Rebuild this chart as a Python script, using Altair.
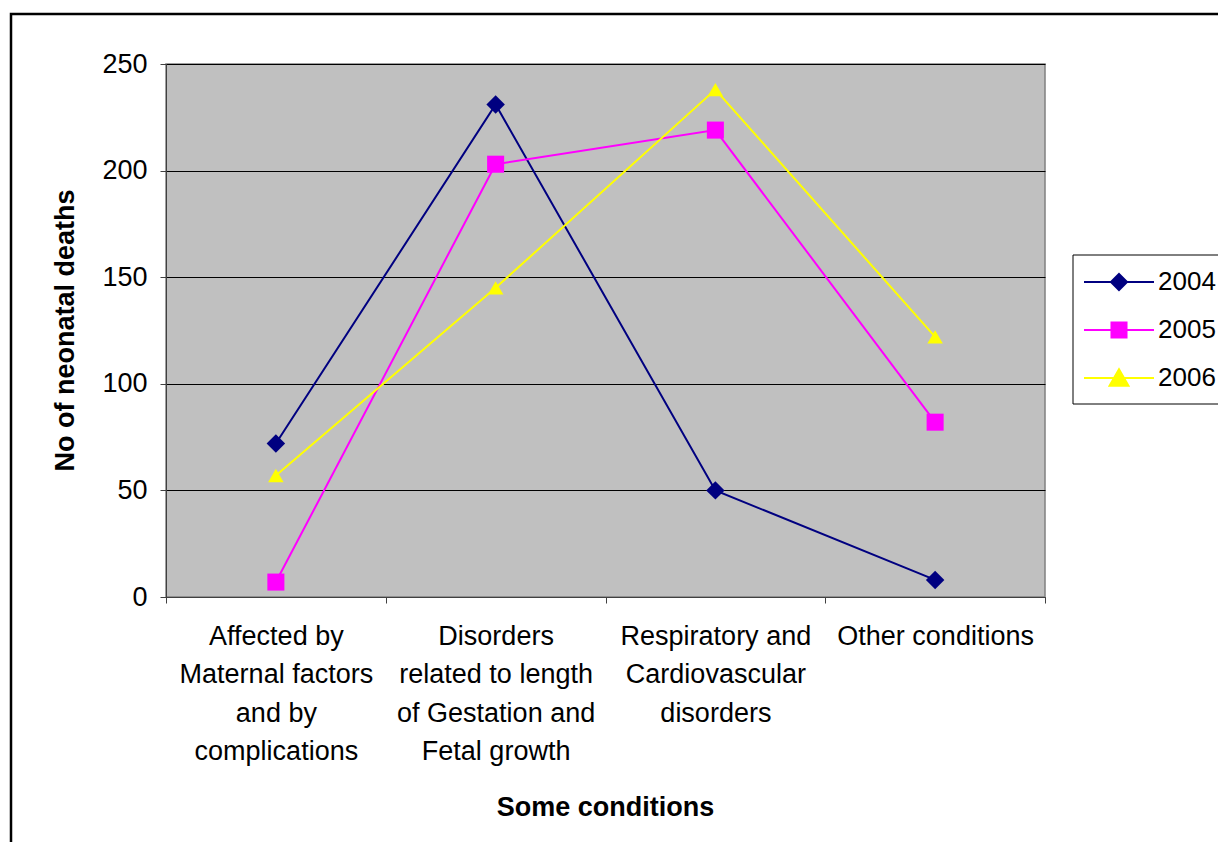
import altair as alt
import pandas as pd

categories = [
    "Affected by|Maternal factors|and by|complications",
    "Disorders|related to length|of Gestation and|Fetal growth",
    "Respiratory and|Cardiovascular|disorders",
    "Other conditions",
]
years = ["2004", "2005", "2006"]
v2004 = [72, 231, 50, 8]
v2005 = [7, 203, 219, 82]
v2006 = [57, 145, 238, 122]
colors = ["#000080", "#FF00FF", "#FFFF00"]
point_shapes = ["diamond", "square", "triangle-up"]
point_sizes = [340, 240, 340]
legend_shapes = [
    "M-1,0L1,0M0,-0.23L0.23,0L0,0.23L-0.23,0Z",
    "M-1,0L1,0M-0.215,-0.215L0.215,-0.215L0.215,0.215L-0.215,0.215Z",
    "M-1,0L1,0M0,-0.25L0.27,0.22L-0.27,0.22Z",
]

rows = []
for yr, vals in zip(years, [v2004, v2005, v2006]):
    for c, v in zip(categories, vals):
        rows.append({"cat": c, "year": yr, "value": v})
df = pd.DataFrame(rows)

FONT = "Liberation Sans"

x_enc = alt.X(
    "cat:N",
    sort=categories,
    scale=alt.Scale(paddingInner=0, paddingOuter=0),
    axis=alt.Axis(
        title="Some conditions",
        labelExpr="split(datum.label, '|')",
        labelAngle=0,
        labelFontSize=27,
        labelLineHeight=38.5,
        labelPadding=20,
        labelLimit=0,
        labelColor="black",
        labelFont=FONT,
        tickBand="extent",
        tickSize=6,
        tickColor="#404040",
        domainColor="#404040",
        grid=False,
        titleFontSize=27,
        titleFont=FONT,
        titleFontWeight="bold",
        titleColor="black",
        titleX=439,
        titleY=210,
        titleBaseline="middle",
        titleAlign="center",
    ),
)
y_enc = alt.Y(
    "value:Q",
    scale=alt.Scale(domain=[0, 250], nice=False, zero=True),
    axis=alt.Axis(
        title="No of neonatal deaths",
        values=[0, 50, 100, 150, 200, 250],
        labelFontSize=27,
        labelFont=FONT,
        labelColor="black",
        labelPadding=13,
        tickSize=6,
        tickColor="#404040",
        domainColor="#404040",
        grid=True,
        gridColor="black",
        gridWidth=1,
        titleFontSize=27,
        titleFont=FONT,
        titleFontWeight="bold",
        titleColor="black",
        titleAngle=-90,
        titleX=-101,
        titleY=266,
        titleBaseline="middle",
        titleAlign="center",
    ),
)

color_all = alt.Color("year:N", scale=alt.Scale(domain=years, range=colors), legend=None)

base = alt.Chart(df)

border = alt.Chart(pd.DataFrame({"k": [0]})).mark_rect(
    filled=False, stroke="black", strokeWidth=2.5
).encode(
    x=alt.value(-155), x2=alt.value(1100), y=alt.value(-50), y2=alt.value(850)
)

legend_frame = alt.Chart(pd.DataFrame({"k": [0]})).mark_rect(
    fill="white", stroke="black", strokeWidth=1
).encode(
    x=alt.value(907), x2=alt.value(1100), y=alt.value(191), y2=alt.value(340)
)

lines = base.mark_line(strokeWidth=2).encode(x=x_enc, y=y_enc, color=color_all)
points = base.mark_point(filled=True, opacity=1).encode(
    x=x_enc,
    y=y_enc,
    color=color_all,
    shape=alt.Shape("year:N", scale=alt.Scale(domain=years, range=point_shapes), legend=None),
    size=alt.Size("year:N", scale=alt.Scale(domain=years, range=point_sizes), legend=None),
)

legend_layers = []
for i, (yr, col, path) in enumerate(zip(years, colors, legend_shapes)):
    lg = alt.Legend(
        title=None,
        orient="none",
        legendX=917,
        legendY=203 + 48 * i,
        padding=0,
        labelFontSize=26,
        labelFont=FONT,
        labelColor="black",
        labelOffset=3,
        labelLimit=0,
        labelBaseline="middle",
        symbolType=path,
        symbolSize=4900,
        symbolStrokeWidth=2,
        symbolStrokeColor=col,
        symbolFillColor=col,
        symbolOpacity=1,
        clipHeight=30,
    )
    legend_layers.append(
        base.transform_filter(alt.datum.year == yr)
        .mark_line(opacity=0)
        .encode(
            x=x_enc,
            y=y_enc,
            color=alt.Color("year:N", scale=alt.Scale(domain=[yr], range=[col]), legend=lg),
        )
    )

chart = (
    alt.layer(border, legend_frame, lines, points, *legend_layers)
    .resolve_scale(shape="independent", color="independent")
    .properties(
        width=879,
        height=533,
        autosize=alt.AutoSizeParams(type="none"),
        padding={"left": 158, "top": 56, "right": 173, "bottom": 245},
        background="white",
    )
    .configure_view(stroke="#808080", strokeWidth=1.5, fill="#C0C0C0")
)

chart.save("out.html", embed_options={"renderer": "svg", "actions": False})
